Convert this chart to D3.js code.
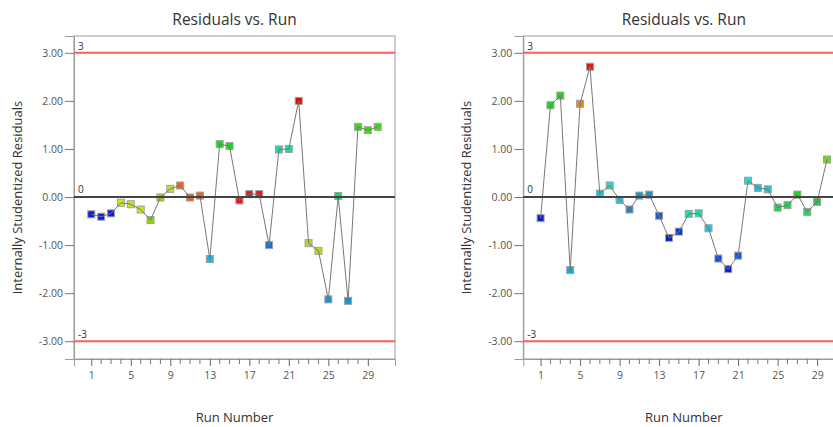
<!DOCTYPE html>
<html>
<head>
<meta charset="utf-8">
<script src="https://cdn.jsdelivr.net/npm/d3@7"></script>
<style>
  html, body { margin: 0; padding: 0; background: #fff; }
  svg { display: block; font-family: "Open Sans", "Noto Sans", sans-serif; }
</style>
</head>
<body>
<svg id="chart" width="833" height="427"></svg>
<script>
// Run order
const runs = [1,2,3,4,5,6,7,8,9,10,11,12,13,14,15,16,17,18,19,20,21,22,23,24,25,26,27,28,29,30];

// Internally studentized residuals, first model
const leftResiduals = [-0.36,-0.41,-0.34,-0.12,-0.15,-0.26,-0.48,-0.01,0.17,0.24,
                       -0.01,0.03,-1.29,1.10,1.06,-0.07,0.06,0.06,-1.00,0.99,
                       1.00,2.00,-0.96,-1.12,-2.13,0.02,-2.16,1.46,1.39,1.46];
const leftColors = ["#0a1ed8","#0a1ed8","#0a1ed8","#c8e61e","#c8e61e","#c8e61e","#8cd214","#9ad200","#b8e628","#f0641e",
                    "#e6641e","#e6641e","#1eb4e6","#14dc14","#14dc14","#e61414","#e61414","#e61414","#1473dc","#14dcaa",
                    "#14dcaa","#dc0a0a","#b4dc14","#b4dc14","#1496dc","#0adc64","#1496dc","#3cdc14","#3cdc14","#3cdc14"];

// Internally studentized residuals, second model
const rightResiduals = [-0.44,1.91,2.11,-1.52,1.94,2.71,0.07,0.24,-0.06,-0.26,
                        0.03,0.05,-0.39,-0.85,-0.72,-0.35,-0.34,-0.65,-1.28,-1.50,
                        -1.22,0.34,0.19,0.16,-0.22,-0.17,0.05,-0.31,-0.10,0.78];
const rightColors = ["#0a1ed8","#14dc14","#14dc14","#14aadc","#e68c0a","#e61414","#14c8dc","#1edcc8","#14c8dc","#1488dc",
                     "#1498c8","#1498c8","#1458dc","#0a1ed0","#0a32d0","#1edcaa","#1edcaa","#1ec8dc","#1446dc","#0a1ed0",
                     "#1458dc","#1edcdc","#14c8dc","#14c8dc","#14dc46","#14dc46","#14dc14","#1edc5a","#1ec846","#6edc14"];

// Axis ticks and control limits
const yTicks = [-3, -2, -1, 0, 1, 2, 3];
const xMajorTicks = [1, 5, 9, 13, 17, 21, 25, 29];
const xMinorTicks = [2,3,4,6,7,8,10,11,12,14,15,16,18,19,20,22,23,24,26,27,28];
const limits = [3, -3];

const svg = d3.select("#chart");

// Plain hyphen-minus for negative numbers
const hyphen = f => v => f(v).replace("\u2212", "-");
const fmt2 = hyphen(d3.format(".2f"));
const fmtInt = hyphen(d3.format("d"));

const plotLeft = 74, plotRight = 395, plotTop = 36, plotBottom = 359;
const x = d3.scaleLinear().domain([-0.75, 31.75]).range([plotLeft, plotRight]);
const y = d3.scaleLinear().domain([-3.37, 3.35]).range([plotBottom, plotTop]);

function drawPanel(offsetX, values, colors) {
  const g = svg.append("g").attr("transform", `translate(${offsetX},0)`);
  const cx = (plotLeft + plotRight) / 2;

  // Title
  g.append("text")
    .attr("x", cx).attr("y", 25)
    .attr("text-anchor", "middle")
    .attr("font-size", 15.5)
    .attr("fill", "#333")
    .text("Residuals vs. Run");

  // Plot frame
  g.append("rect")
    .attr("x", plotLeft).attr("y", plotTop)
    .attr("width", plotRight - plotLeft).attr("height", plotBottom - plotTop)
    .attr("fill", "none").attr("stroke", "#9a9a9a").attr("stroke-width", 1);

  // Y axis
  const yAxis = d3.axisLeft(y).tickValues(yTicks).tickFormat(fmt2).tickSize(9).tickPadding(2);
  const ya = g.append("g").attr("transform", `translate(${plotLeft},0)`).call(yAxis);
  ya.select(".domain").attr("stroke", "#9a9a9a");
  ya.selectAll(".tick line").attr("stroke", "#777");
  ya.selectAll(".tick text").attr("fill", "#555").attr("font-size", 10.5)
    .attr("font-family", "\"Open Sans\", \"Noto Sans\", sans-serif");

  // X axis: major ticks with labels, minor ticks per run
  const xAxis = d3.axisBottom(x).tickValues(xMajorTicks).tickFormat(fmtInt).tickSize(7).tickPadding(6);
  const xa = g.append("g").attr("transform", `translate(0,${plotBottom})`).call(xAxis);
  xa.select(".domain").attr("stroke", "#9a9a9a");
  xa.selectAll(".tick line").attr("stroke", "#666");
  xa.selectAll(".tick text").attr("fill", "#555").attr("font-size", 10.5)
    .attr("font-family", "\"Open Sans\", \"Noto Sans\", sans-serif");
  g.append("g").selectAll("line").data(xMinorTicks).join("line")
    .attr("x1", d => x(d)).attr("x2", d => x(d))
    .attr("y1", plotBottom).attr("y2", plotBottom + 5)
    .attr("stroke", "#777").attr("stroke-width", 1);

  // Axis titles
  g.append("text")
    .attr("transform", `translate(22,${(plotTop + plotBottom) / 2}) rotate(-90)`)
    .attr("text-anchor", "middle")
    .attr("font-size", 13)
    .attr("fill", "#333")
    .text("Internally Studentized Residuals");
  g.append("text")
    .attr("x", cx).attr("y", 422)
    .attr("text-anchor", "middle")
    .attr("font-size", 13)
    .attr("fill", "#333")
    .text("Run Number");

  // Control limits
  g.append("g").selectAll("line").data(limits).join("line")
    .attr("x1", plotLeft).attr("x2", plotRight)
    .attr("y1", d => y(d)).attr("y2", d => y(d))
    .attr("stroke", "#ff5c5c").attr("stroke-width", 2);
  g.append("g").selectAll("text").data(limits).join("text")
    .attr("x", plotLeft + 4).attr("y", d => y(d) - 3)
    .attr("font-size", 10).attr("fill", "#333")
    .text(d => fmtInt(d));

  // Points
  const pts = runs.map((r, i) => ({ run: r, value: values[i], color: colors[i] }));
  const s = 7;
  g.append("g").selectAll("rect").data(pts).join("rect")
    .attr("x", d => x(d.run) - s / 2).attr("y", d => y(d.value) - s / 2)
    .attr("width", s).attr("height", s)
    .attr("fill", d => d.color)
    .attr("stroke", "#a0a0a0").attr("stroke-width", 1);

  // Connecting line
  const line = d3.line().x(d => x(d.run)).y(d => y(d.value));
  g.append("path").datum(pts)
    .attr("d", line)
    .attr("fill", "none").attr("stroke", "#777").attr("stroke-width", 1);

  // Zero reference line
  g.append("line")
    .attr("x1", plotLeft).attr("x2", plotRight)
    .attr("y1", y(0)).attr("y2", y(0))
    .attr("stroke", "#444").attr("stroke-width", 2);
  g.append("text")
    .attr("x", plotLeft + 4).attr("y", y(0) - 4)
    .attr("font-size", 10).attr("fill", "#333")
    .text("0");
}

drawPanel(0, leftResiduals, leftColors);
drawPanel(449.3, rightResiduals, rightColors);
</script>
</body>
</html>
